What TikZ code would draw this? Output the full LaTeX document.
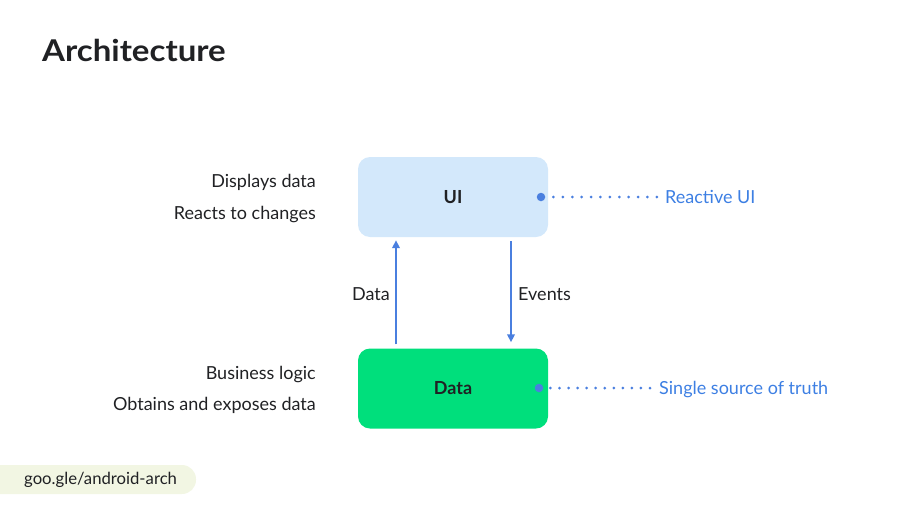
\documentclass[tikz,border=0pt]{standalone}
\usepackage{fontspec}
\setmainfont{Lato}
\newfontfamily\headfont[FakeStretch=1.1]{Lato}
\usetikzlibrary{arrows.meta,positioning}
\definecolor{ink}{HTML}{202124}
\definecolor{uifill}{HTML}{D3E8FB}
\definecolor{datafill}{HTML}{00DF7C}
\definecolor{flowblue}{HTML}{4A7FDF}
\definecolor{tagblue}{HTML}{3D7FE3}
\definecolor{pillfill}{HTML}{F2F6E3}

\begin{document}
\begin{tikzpicture}[x=1pt, y=-1pt,
    box/.style={rounded corners=12pt, minimum width=190pt, minimum height=80pt, font=\fontsize{18}{21}\selectfont\bfseries, text=ink},
    note/.style={font=\fontsize{18}{21}\selectfont, text=ink, inner sep=0pt},
    tag/.style={font=\fontsize{18}{21}\selectfont, text=tagblue, inner sep=0pt, anchor=base west},
    flow/.style={-{Triangle[length=8pt,width=7.5pt]}, line width=2pt, draw=flowblue},
    pindot/.style={circle, fill=flowblue, inner sep=0pt, minimum size=8.5pt},
    dotline/.style={draw=flowblue, line width=3pt, line cap=round, dash pattern=on 0pt off #1}
]
    \useasboundingbox (0,0) rectangle (900,504);

    \node[anchor=base west, inner sep=0pt, font=\headfont\fontsize{30}{36}\selectfont\bfseries, text=ink] (title) at (42,61) {Architecture};

    \node[box, fill=uifill] (ui) at (453,197) {UI};
    \node[box, fill=datafill] (data) at (453,388.5) {Data};

    \node[note, anchor=base east] (shows) at (316,187) {Displays data};
    \node[note, anchor=base east] (reacts) at (316,219) {Reacts to changes};
    \node[note, anchor=base east] (logic) at (316,379) {Business logic};
    \node[note, anchor=base east] (exposes) at (316,410) {Obtains and exposes data};

    \coordinate (upx) at (396,0);
    \coordinate (downx) at (511,0);
    \draw[flow, shorten <=4pt, shorten >=3pt] (data.north -| upx) -- (ui.south -| upx);
    \draw[flow, shorten <=4pt, shorten >=6pt] (ui.south -| downx) -- (data.north -| downx);
    \node[note, anchor=base east] (datalbl) at (390,300) {Data};
    \node[note, anchor=base west] (eventslbl) at (518,300) {Events};

    \node[pindot] (uidot) at (541,197) {};
    \node[pindot] (datadot) at (539,388) {};
    \node[tag] (reactive) at (665,203) {Reactive UI};
    \node[tag] (truth) at (659,394) {Single source of truth};
    \draw[dotline=9.4pt, shorten <=8pt, shorten >=8pt] (uidot) -- (uidot -| reactive.west);
    \draw[dotline=9.05pt, shorten <=7pt, shorten >=9pt] (datadot) -- (datadot -| truth.west);

    \fill[pillfill, rounded corners=14pt] (-30,465) rectangle (196,494);
    \node[note, anchor=base west, font=\fontsize{16.7}{20}\selectfont] (link) at (24,484) {goo.gle/android-arch};
\end{tikzpicture}
\end{document}
